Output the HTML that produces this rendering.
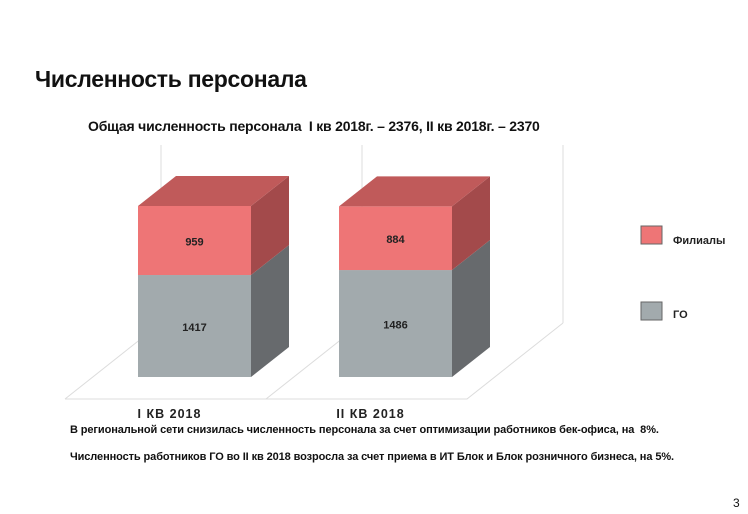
<!DOCTYPE html>
<html><head><meta charset="utf-8"><style>
body{margin:0;width:748px;height:514px;background:#fff;position:relative;overflow:hidden;font-family:"Liberation Sans",sans-serif;}
.t{position:absolute;white-space:nowrap;color:#111;font-weight:bold;}
</style></head><body>
<div class="t" style="left:35px;top:66px;font-size:23px;letter-spacing:-0.3px;">Численность персонала</div>
<div class="t" style="left:88px;top:118px;font-size:14px;letter-spacing:-0.2px;">Общая численность персонала&nbsp; I кв 2018г. – 2376, II кв 2018г. – 2370</div>
<svg id="chart" width="748" height="514" style="position:absolute;left:0;top:0"></svg>
<div class="t" style="left:70px;top:424px;font-size:11px;letter-spacing:-0.1px;">В региональной сети снизилась численность персонала за счет оптимизации работников бек-офиса, на&nbsp; 8%.</div>
<div class="t" style="left:70px;top:451px;font-size:11px;letter-spacing:-0.1px;">Численность работников ГО во II кв 2018 возросла за счет приема в ИТ Блок и Блок розничного бизнеса, на 5%.</div>
<div class="t" style="left:733px;top:496px;font-size:12px;font-weight:normal;">3</div>
<script>
const categories=["I КВ 2018","II КВ 2018"];
const goValues=[1417,1486];
const filValues=[959,884];
const seriesNames=["Филиалы","ГО"];
const svg=document.getElementById('chart');
const NS='http://www.w3.org/2000/svg';
const baseY=377, k=171/2376, barW=113, dx=38, dy=-30;
const barX=i=>138+i*201;
const yS=v=>baseY-v*k;
function add(tag,attrs,name){const e=document.createElementNS(NS,tag);for(const a in attrs)e.setAttribute(a,attrs[a]);


svg.appendChild(e);return e;}
const g='#dcdcdc';
add('polyline',{points:'65,399 467,399 563,323',fill:'none',stroke:g},'floor-front-edge');
add('line',{x1:65,y1:399,x2:161,y2:323,stroke:g},'floor-left-edge');
add('line',{x1:266,y1:399,x2:362,y2:323,stroke:g},'floor-mid-edge');
[161,362,563].forEach((x,i)=>add('line',{x1:x,y1:145,x2:x,y2:323,stroke:g},'back-wall-line-'+i));
function box(x,y0,y1,front,side,top,name){
 add('rect',{x:x,y:y1,width:barW,height:y0-y1,fill:front},name+'-front');
 add('polygon',{points:`${x+barW},${y0} ${x+barW+dx},${y0+dy} ${x+barW+dx},${y1+dy} ${x+barW},${y1}`,fill:side},name+'-side');
 if(top)add('polygon',{points:`${x},${y1} ${x+dx},${y1+dy} ${x+barW+dx},${y1+dy} ${x+barW},${y1}`,fill:top},name+'-top');
}
categories.forEach((c,i)=>{
 const x=barX(i);const ys=yS(goValues[i]);const yt=yS(goValues[i]+filValues[i]);
 box(x,baseY,ys,'#a2aaad','#676a6d',null,'bar-go-'+i);
 box(x,ys,yt,'#ee7576','#a34a4b','#c05a5a','bar-fil-'+i);
 const t1=add('text',{x:x+barW/2,y:(baseY+ys)/2+5,'text-anchor':'middle','font-size':11,'font-weight':'bold',fill:'#222','font-family':'Liberation Sans'},'label-go-'+i);t1.textContent=goValues[i];
 const t2=add('text',{x:x+barW/2,y:(ys+yt)/2+5,'text-anchor':'middle','font-size':11,'font-weight':'bold',fill:'#222','font-family':'Liberation Sans'},'label-fil-'+i);t2.textContent=filValues[i];
 const t3=add('text',{x:x+barW/2-25,y:418,'text-anchor':'middle','font-size':12.5,'font-weight':'bold',fill:'#222','letter-spacing':'1','font-family':'Liberation Sans'},'category-label-'+i);t3.textContent=c;
});
add('rect',{x:641,y:226,width:21,height:18,fill:'#ee7576',stroke:'#666'},'legend-swatch-filialy');
add('rect',{x:641,y:302,width:21,height:18,fill:'#a2aaad',stroke:'#666'},'legend-swatch-go');
const l1=add('text',{x:673,y:244,'font-size':11,'font-weight':'bold',fill:'#222','font-family':'Liberation Sans'},'legend-label-filialy');l1.textContent=seriesNames[0];
const l2=add('text',{x:673,y:318,'font-size':11,'font-weight':'bold',fill:'#222','font-family':'Liberation Sans'},'legend-label-go');l2.textContent=seriesNames[1];
</script>
</body></html>
